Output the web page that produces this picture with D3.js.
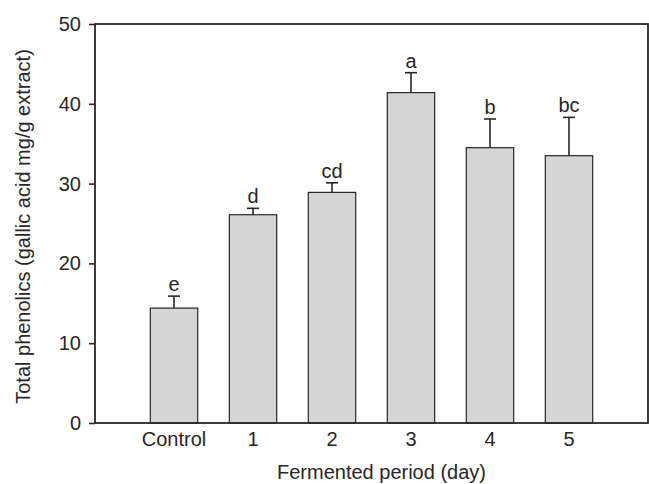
<!DOCTYPE html>
<html>
<head>
<meta charset="utf-8">
<script src="https://cdn.jsdelivr.net/npm/d3@7"></script>
<style>
  body { margin: 0; background: #fff; }
  svg { display: block; }
</style>
</head>
<body>
<div id="chart"></div>
<script>
// chart values
var categories = ["Control", "1", "2", "3", "4", "5"];
var means = [14.4, 26.1, 28.9, 41.4, 34.5, 33.5];
var errors = [1.5, 0.8, 1.2, 2.5, 3.6, 4.8];
var letters = ["e", "d", "cd", "a", "b", "bc"];
var yTicks = [0, 10, 20, 30, 40, 50];

var margin = ({top: 24, right: 1, bottom: 61, left: 95});
var width = 649, height = 484;
var ink = "#2b2526";
var font = "'Liberation Sans', Arial, Helvetica, sans-serif";

var svg = d3.select("#chart")
    .append("svg")
    .attr("width", width)
    .attr("height", height)
    .style("font-family", font);

var x = d3.scaleBand()
    .domain(categories)
    .range([margin.left, width - margin.right])
    .paddingInner(0.4)
    .paddingOuter(0.7);

var y = d3.scaleLinear()
    .domain([0, 50])
    .range([height - margin.bottom, margin.top]);

var data = categories.map((c, i) => ({cat: c, mean: means[i], err: errors[i], letter: letters[i]}));

// bars
svg.append("g")
  .selectAll("rect")
  .data(data)
  .join("rect")
    .attr("x", d => x(d.cat))
    .attr("y", d => y(d.mean))
    .attr("width", x.bandwidth())
    .attr("height", d => y(0) - y(d.mean))
    .attr("fill", "#d4d5d4")
    .attr("stroke", ink)
    .attr("stroke-width", 1.2);

// error bars (upper only)
var eb = svg.append("g")
    .attr("stroke", ink)
    .attr("stroke-width", 1.6);

eb.selectAll("line.v")
  .data(data)
  .join("line")
    .attr("class", "v")
    .attr("x1", d => x(d.cat) + x.bandwidth() / 2)
    .attr("x2", d => x(d.cat) + x.bandwidth() / 2)
    .attr("y1", d => y(d.mean))
    .attr("y2", d => y(d.mean + d.err));

eb.selectAll("line.cap")
  .data(data)
  .join("line")
    .attr("class", "cap")
    .attr("x1", d => x(d.cat) + x.bandwidth() / 2 - 6)
    .attr("x2", d => x(d.cat) + x.bandwidth() / 2 + 6)
    .attr("y1", d => y(d.mean + d.err))
    .attr("y2", d => y(d.mean + d.err));

// significance letters
svg.append("g")
  .selectAll("text")
  .data(data)
  .join("text")
    .attr("x", d => x(d.cat) + x.bandwidth() / 2)
    .attr("y", d => y(d.mean + d.err) - 5)
    .attr("text-anchor", "middle")
    .attr("font-size", 20)
    .attr("fill", ink)
    .text(d => d.letter);

// axes
var yAxis = g => g
    .attr("transform", `translate(${margin.left},0)`)
    .call(d3.axisLeft(y).tickValues(yTicks).tickSize(6).tickPadding(8))
    .call(g => g.select(".domain").remove())
    .call(g => g.selectAll(".tick line").attr("stroke", ink).attr("stroke-width", 1.6))
    .call(g => g.selectAll(".tick text").attr("fill", ink).attr("font-size", 20).attr("font-family", font));

var xAxis = g => g
    .attr("transform", `translate(0,${height - margin.bottom})`)
    .call(d3.axisBottom(x).tickSize(0).tickPadding(9))
    .call(g => g.select(".domain").remove())
    .call(g => g.selectAll(".tick text").attr("fill", ink).attr("font-size", 20).attr("font-family", font));

svg.append("g").call(xAxis);
svg.append("g").call(yAxis);

// frame
svg.append("rect")
    .attr("x", margin.left)
    .attr("y", margin.top)
    .attr("width", width - margin.right - margin.left)
    .attr("height", height - margin.bottom - margin.top)
    .attr("fill", "none")
    .attr("stroke", ink)
    .attr("stroke-width", 1.8);

// axis titles
svg.append("text")
    .attr("x", (margin.left + width - margin.right) / 2 + 10)
    .attr("y", 479)
    .attr("text-anchor", "middle")
    .attr("font-size", 20)
    .attr("fill", ink)
    .text("Fermented period (day)");

svg.append("text")
    .attr("transform", `translate(30,${(margin.top + height - margin.bottom) / 2 + 3}) rotate(-90)`)
    .attr("text-anchor", "middle")
    .attr("font-size", 20)
    .attr("fill", ink)
    .text("Total phenolics (gallic acid mg/g extract)");
</script>
</body>
</html>
